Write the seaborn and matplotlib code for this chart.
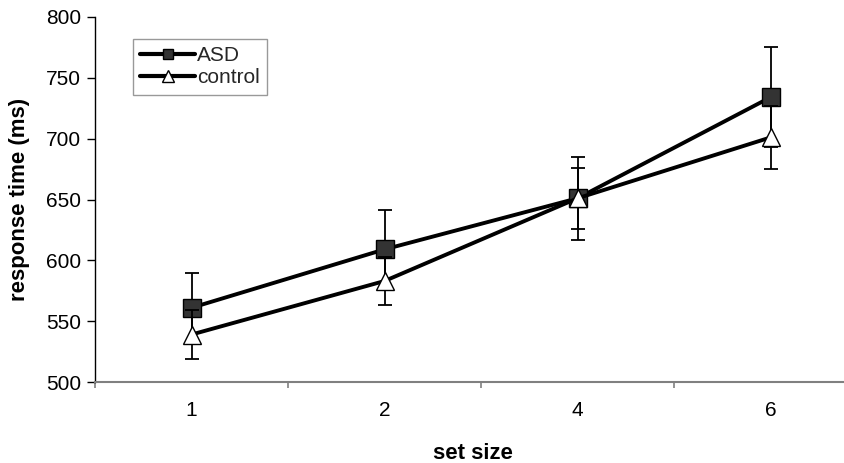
import matplotlib
matplotlib.use("Agg")
import matplotlib.pyplot as plt
from matplotlib.lines import Line2D
import seaborn as sns
import pandas as pd

set_sizes = ["1", "2", "4", "6"]
asd_mean = [561, 609, 651, 734]
asd_err = [29, 32, 34, 41]
control_mean = [539, 583, 651, 701]
control_err = [20, 20, 25, 26]
groups = ["ASD", "control"]
y_ticks = [500, 550, 600, 650, 700, 750, 800]

sns.set_theme(style="white")
plt.rcParams["font.family"] = ["Liberation Sans", "DejaVu Sans"]

df = pd.DataFrame({
    "set size": list(range(len(set_sizes))) * 2,
    "rt": asd_mean + control_mean,
    "err": asd_err + control_err,
    "group": [groups[0]] * 4 + [groups[1]] * 4,
})

fig = plt.figure(figsize=(8.44, 4.63), dpi=100)
ax = fig.add_axes([95 / 844, (463 - 382) / 463, 772 / 844, 365 / 463])

styles = {
    "ASD": dict(marker="s", markerfacecolor="#333333", markersize=12.5),
    "control": dict(marker="^", markerfacecolor="white", markersize=13),
}
z = 2
for g in groups:
    sub = df[df["group"] == g]
    ax.errorbar(sub["set size"], sub["rt"], yerr=sub["err"], fmt="none",
                ecolor="black", elinewidth=1.3, capsize=5, capthick=1.3, zorder=z)
    sns.lineplot(data=sub, x="set size", y="rt", ax=ax, color="black",
                 linewidth=2.8, markeredgecolor="black", markeredgewidth=1.0,
                 legend=False, zorder=z + 1, **styles[g])
    z += 2

ax.set_xlim(-0.5, 3.5)
ax.set_ylim(500, 800)
ax.set_yticks(y_ticks)
ax.set_xticks(range(len(set_sizes)))
ax.set_xticklabels(set_sizes)
ax.set_xticks([-0.5, 0.5, 1.5, 2.5], minor=True)

for s in ["top", "right"]:
    ax.spines[s].set_visible(False)
ax.spines["left"].set_color("black")
ax.spines["left"].set_linewidth(1.0)
ax.spines["bottom"].set_color("#808080")
ax.spines["bottom"].set_linewidth(1.5)

ax.tick_params(axis="y", which="major", left=True, direction="out", length=6,
               width=1, color="black", pad=4, labelsize=15, labelcolor="black")
ax.tick_params(axis="x", which="major", bottom=False, length=0, pad=14,
               labelsize=15, labelcolor="black")
ax.tick_params(axis="x", which="minor", bottom=True, direction="out", length=4,
               width=1.2, color="#808080")

ax.set_xlabel("set size", fontsize=16, fontweight="bold", color="black",
              va="top")
ax.xaxis.set_label_coords(0.49, -0.168)
ax.set_ylabel("response time (ms)", fontsize=16, fontweight="bold", color="black")
ax.yaxis.set_label_coords(-0.084, 0.5)

handles = [
    Line2D([], [], color="black", linewidth=3.0, marker="s",
           markerfacecolor="#333333", markeredgecolor="black", markersize=7),
    Line2D([], [], color="black", linewidth=3.0, marker="^",
           markerfacecolor="white", markeredgecolor="black", markersize=8),
]
leg = ax.legend(handles, groups, loc="upper left", bbox_to_anchor=(0.0494, 0.94),
                borderaxespad=0, frameon=True, fancybox=False, fontsize=15,
                handlelength=2.6, handletextpad=0.1, borderpad=0.35,
                labelspacing=0.15)
leg.get_frame().set_edgecolor("#808080")
leg.get_frame().set_linewidth(1.0)

fig.savefig("out.png", dpi=100)
